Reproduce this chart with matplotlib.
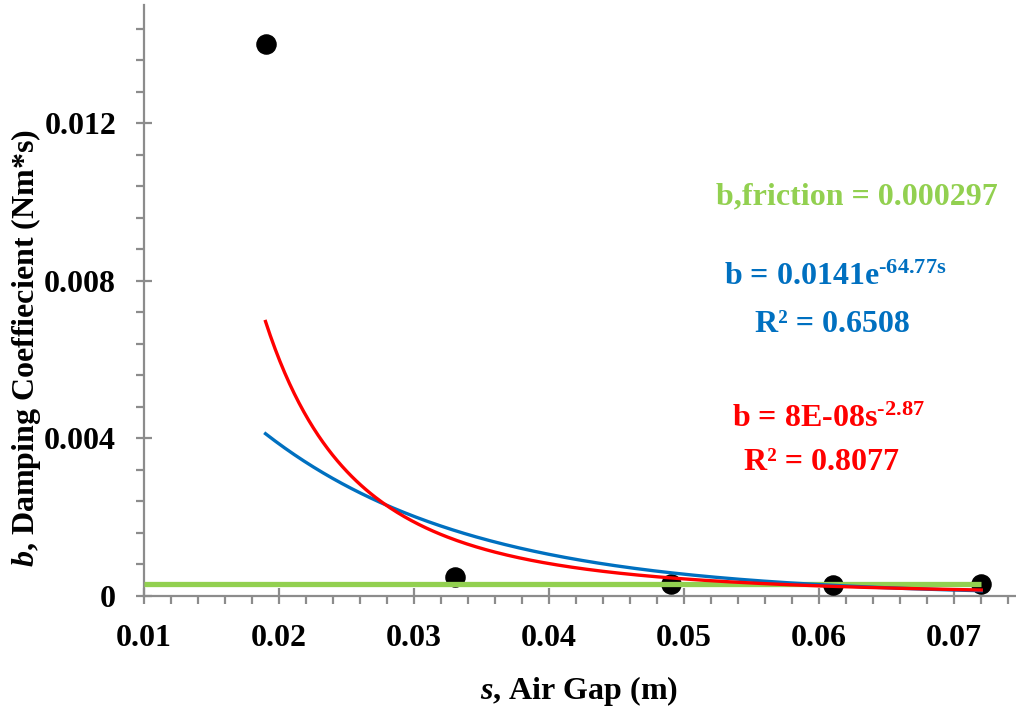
import numpy as np
import matplotlib.pyplot as plt
from matplotlib.ticker import MultipleLocator

# =====================================================
# Data
# =====================================================

air_gap = [0.019, 0.033, 0.049, 0.061, 0.072]
damping = [0.01402, 0.00048, 0.00030, 0.00028, 0.00030]

b_friction = 0.000297

# exponential trendline  b = a * exp(k s)
exp_a = 0.0141
exp_k = -64.77
exp_r2 = 0.6508

# power trendline  b = a * s^n
pow_a = 8e-08
pow_n = -2.87
pow_r2 = 0.8077

# =====================================================
# Style
# =====================================================

plt.rcParams["font.family"] = "Liberation Serif"
plt.rcParams["font.weight"] = "bold"
plt.rcParams["mathtext.fontset"] = "custom"
plt.rcParams["mathtext.rm"] = "Liberation Serif:bold"
plt.rcParams["mathtext.bf"] = "Liberation Serif:bold"
plt.rcParams["mathtext.it"] = "Liberation Serif:bold:italic"

axis_grey = "#8c8c8c"
green = "#92D050"
blue = "#0070C0"
red = "#FF0000"
fs = 23
hyph = "\u2010"

fig = plt.figure(figsize=(10.16, 7.14), dpi=100)
ax = fig.add_axes([144 / 1016, 118 / 714, 871 / 1016, 591 / 714])

# =====================================================
# Plot
# =====================================================

s_fit = np.linspace(min(air_gap), max(air_gap), 300)

ax.scatter(air_gap, damping, s=190, color="black", zorder=3)

ax.plot([0.01, max(air_gap)], [b_friction, b_friction],
        color=green, linewidth=3.8, zorder=4, solid_capstyle="butt")

ax.plot(s_fit, exp_a * np.exp(exp_k * s_fit),
        color=blue, linewidth=2.4, zorder=5)

ax.plot(s_fit, pow_a * s_fit ** pow_n,
        color=red, linewidth=2.4, zorder=6)

# =====================================================
# Axes
# =====================================================

ax.set_xlim(0.01, 0.0745)
ax.set_ylim(0, 0.015)

ax.xaxis.set_major_locator(MultipleLocator(0.01))
ax.xaxis.set_minor_locator(MultipleLocator(0.002))
ax.yaxis.set_major_locator(MultipleLocator(0.004))
ax.yaxis.set_minor_locator(MultipleLocator(0.0008))

ax.xaxis.set_major_formatter(plt.FuncFormatter(lambda v, p: f"{v:.2f}"))
ax.yaxis.set_major_formatter(
    plt.FuncFormatter(lambda v, p: "0" if abs(v) < 1e-12 else f"{v:.3f}"))

for side in ["top", "right"]:
    ax.spines[side].set_visible(False)
for side in ["left", "bottom"]:
    ax.spines[side].set_color(axis_grey)
    ax.spines[side].set_linewidth(1.6)

ax.tick_params(which="major", direction="inout", length=12, width=1.6,
               color=axis_grey, labelsize=fs)
ax.tick_params(which="minor", direction="out", length=6, width=1.6,
               color=axis_grey)
ax.tick_params(axis="x", which="major", pad=14)
ax.tick_params(axis="y", which="major", pad=14)

for lbl in ax.get_xticklabels() + ax.get_yticklabels():
    lbl.set_fontweight("bold")

ax.set_xlabel(r"$s$, Air Gap (m)", fontsize=fs, fontweight="bold", labelpad=15)
ax.set_ylabel(r"$b$, Damping Coeffiecient (Nm*s)", fontsize=fs,
              fontweight="bold")
ax.yaxis.set_label_coords(-0.116, 0.42)

# =====================================================
# Annotations
# =====================================================

ax.text(0.0628, 0.01013, f"b,friction = {b_friction:.6f}", color=green,
        fontsize=fs, fontweight="bold", ha="center", va="center")

ax.text(0.0612, 0.00808,
        r"b = %.4fe$^{\mathbf{%s%.2fs}}$" % (exp_a, hyph, abs(exp_k)),
        color=blue, fontsize=fs, fontweight="bold", ha="center", va="center")
ax.text(0.0610, 0.00688, f"R² = {exp_r2:.4f}", color=blue,
        fontsize=fs, fontweight="bold", ha="center", va="center")

ax.text(0.0607, 0.00447,
        r"b = 8E-08s$^{\mathbf{%s%.2f}}$" % (hyph, abs(pow_n)),
        color=red, fontsize=fs, fontweight="bold", ha="center", va="center")
ax.text(0.0602, 0.00338, f"R² = {pow_r2:.4f}", color=red,
        fontsize=fs, fontweight="bold", ha="center", va="center")

fig.savefig("out.png", dpi=100)
plt.close()
